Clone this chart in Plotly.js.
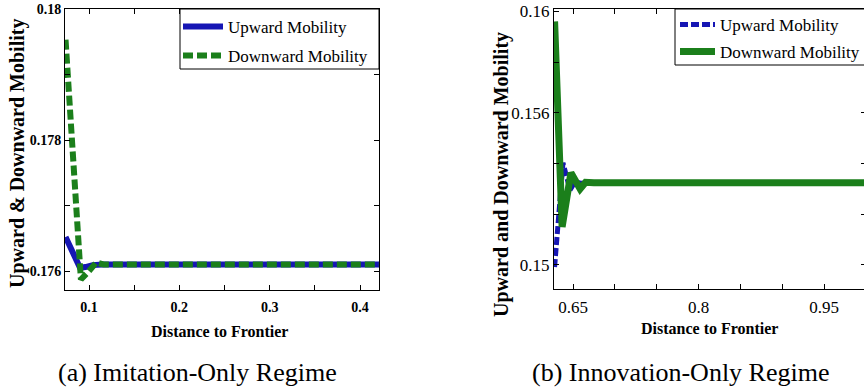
<!DOCTYPE html>
<html>
<head>
<meta charset="utf-8">
<script src="https://cdn.plot.ly/plotly-3.0.1.min.js"></script>
<style>
  html, body { margin: 0; padding: 0; background: #fff; overflow: hidden; }
  #chart { width: 868px; height: 387px; }
</style>
</head>
<body>
<div id="chart"></div>
<script>
// (a) Imitation-only regime: mobility vs distance to frontier
const imitUpX   = [0.074, 0.090, 0.096, 0.104, 0.115, 0.2, 0.27, 0.28, 0.29, 0.35, 0.421];
const imitUpY   = [0.17652, 0.17605, 0.17606, 0.17609, 0.17610, 0.17610, 0.17610, 0.17608, 0.17610, 0.17610, 0.17610];
const imitDownX = [0.074, 0.091, 0.100, 0.108, 0.116, 0.2, 0.27, 0.28, 0.29, 0.35, 0.421];
const imitDownY = [0.17953, 0.17587, 0.17600, 0.17613, 0.17610, 0.17610, 0.17610, 0.17608, 0.17610, 0.17610, 0.17610];

// (b) Innovation-only regime
const innoUpX   = [0.628, 0.638, 0.6465, 0.6525, 0.66, 0.67, 0.8, 0.93, 1.0];
const innoUpY   = [0.14992, 0.15403, 0.15296, 0.15328, 0.15322, 0.15324, 0.15324, 0.15324, 0.15324];
const innoDownX = [0.628, 0.637, 0.6475, 0.6585, 0.665, 0.675, 0.8, 0.93, 1.0];
const innoDownY = [0.15961, 0.15150, 0.15364, 0.15300, 0.15326, 0.15324, 0.15324, 0.15324, 0.15324];

// Tick positions and labels
const imitXTicks = [0.1, 0.15, 0.2, 0.25, 0.3, 0.35, 0.4];
const imitXText  = ['0.1', '', '0.2', '', '0.3', '', '0.4'];
const imitYTicks = [0.176, 0.177, 0.178, 0.179, 0.18];
const imitYText  = ['0.176', '', '0.178', '', '0.18'];
const innoXTicks = [0.65, 0.7, 0.75, 0.8, 0.85, 0.9, 0.95, 1.0];
const innoXText  = ['0.65', '', '', '0.8', '', '', '0.95', ''];
const innoYTicks = [0.15, 0.152, 0.154, 0.156, 0.158, 0.16];
const innoYText  = ['0.15', '', '', '0.156', '', '0.16'];

const labelUp = 'Upward Mobility';
const labelDown = 'Downward Mobility';

const BLUE = '#1616b4';
const GREEN = '#1b7f1b';
const W = 868, H = 387;
const px = v => v / W;
const py = v => 1 - v / H;

const traces = [
  { x: imitUpX, y: imitUpY, type: 'scatter', mode: 'lines', name: labelUp,
    xaxis: 'x', yaxis: 'y', legend: 'legend',
    line: { color: BLUE, width: 6 } },
  { x: imitDownX, y: imitDownY, type: 'scatter', mode: 'lines', name: labelDown,
    xaxis: 'x', yaxis: 'y', legend: 'legend2',
    line: { color: GREEN, width: 6, dash: '10px,4px' } },
  { x: innoUpX, y: innoUpY, type: 'scatter', mode: 'lines', name: labelUp,
    xaxis: 'x2', yaxis: 'y2', legend: 'legend3',
    line: { color: BLUE, width: 5, dash: '8px,3px' } },
  { x: innoDownX, y: innoDownY, type: 'scatter', mode: 'lines', name: labelDown,
    xaxis: 'x2', yaxis: 'y2', legend: 'legend4',
    line: { color: GREEN, width: 7 } }
];

const serif = "'Liberation Serif', 'Times New Roman', serif";
const frame = { showline: true, linecolor: '#000', linewidth: 1, mirror: 'ticks',
  ticks: 'inside', ticklen: 5, tickcolor: '#000', showgrid: false, zeroline: false,
  tickmode: 'array', automargin: false };

function legendAt(x, y, iw) {
  return { x: px(x), y: py(y), xanchor: 'left', yanchor: 'middle',
    bgcolor: 'rgba(0,0,0,0)', borderwidth: 0, itemwidth: iw,
    font: { family: serif, size: 17, color: '#000' } };
}

const layout = {
  width: W, height: H,
  margin: { l: 0, r: 0, t: 0, b: 0 },
  paper_bgcolor: '#fff', plot_bgcolor: '#fff',
  showlegend: true,
  xaxis: Object.assign({}, frame, { domain: [px(65), px(379)], range: [0.0734, 0.421],
    tickvals: imitXTicks, ticktext: imitXText, ticklabelstandoff: 4,
    tickfont: { family: serif, size: 14, weight: 'bold', color: '#000' } }),
  yaxis: Object.assign({}, frame, { domain: [py(290), py(9)], range: [0.17571, 0.18],
    tickvals: imitYTicks, ticktext: imitYText,
    tickfont: { family: serif, size: 14, weight: 'bold', color: '#000' } }),
  xaxis2: Object.assign({}, frame, { domain: [px(554), px(866)], range: [0.6273, 1.0],
    tickvals: innoXTicks, ticktext: innoXText, anchor: 'y2', ticklabelstandoff: 3,
    tickfont: { family: serif, size: 17, color: '#000' } }),
  yaxis2: Object.assign({}, frame, { domain: [py(289), py(9)], range: [0.14905, 0.1601],
    tickvals: innoYTicks, ticktext: innoYText, anchor: 'x2',
    tickfont: { family: serif, size: 17, color: '#000' } }),
  legend:  legendAt(178, 27, 40),
  legend2: legendAt(178, 56, 40),
  legend3: legendAt(675, 25, 35),
  legend4: legendAt(675, 52, 35),
  shapes: [
    { type: 'rect', xref: 'paper', yref: 'paper', layer: 'above',
      x0: px(180), x1: px(379), y0: py(69), y1: py(9),
      line: { color: '#000', width: 1 }, fillcolor: '#fff' },
    { type: 'rect', xref: 'paper', yref: 'paper', layer: 'above',
      x0: px(675), x1: px(872), y0: py(65), y1: py(9),
      line: { color: '#000', width: 1 }, fillcolor: '#fff' }
  ],
  annotations: [
    { text: 'Upward &amp; Downward Mobility', xref: 'paper', yref: 'paper',
      x: px(17), y: py(154), textangle: -90, showarrow: false,
      xanchor: 'center', yanchor: 'middle',
      font: { family: serif, size: 20, weight: 'bold', color: '#000' } },
    { text: 'Upward and Downward Mobility', xref: 'paper', yref: 'paper',
      x: px(501), y: py(175), textangle: -90, showarrow: false,
      xanchor: 'center', yanchor: 'middle',
      font: { family: serif, size: 20, weight: 'bold', color: '#000' } },
    { text: 'Distance to Frontier', xref: 'paper', yref: 'paper',
      x: px(219), y: py(331), showarrow: false, xanchor: 'center', yanchor: 'middle',
      font: { family: serif, size: 16, weight: 'bold', color: '#000' } },
    { text: 'Distance to Frontier', xref: 'paper', yref: 'paper',
      x: px(709), y: py(328), showarrow: false, xanchor: 'center', yanchor: 'middle',
      font: { family: serif, size: 16, weight: 'bold', color: '#000' } },
    { text: '(a) Imitation-Only Regime', xref: 'paper', yref: 'paper',
      x: px(197), y: py(372), showarrow: false, xanchor: 'center', yanchor: 'middle',
      font: { family: serif, size: 26, color: '#000' } },
    { text: '(b) Innovation-Only Regime', xref: 'paper', yref: 'paper',
      x: px(681), y: py(372), showarrow: false, xanchor: 'center', yanchor: 'middle',
      font: { family: serif, size: 26, color: '#000' } }
  ]
};

Plotly.newPlot('chart', traces, layout, { displayModeBar: false, staticPlot: true });
</script>
</body>
</html>
